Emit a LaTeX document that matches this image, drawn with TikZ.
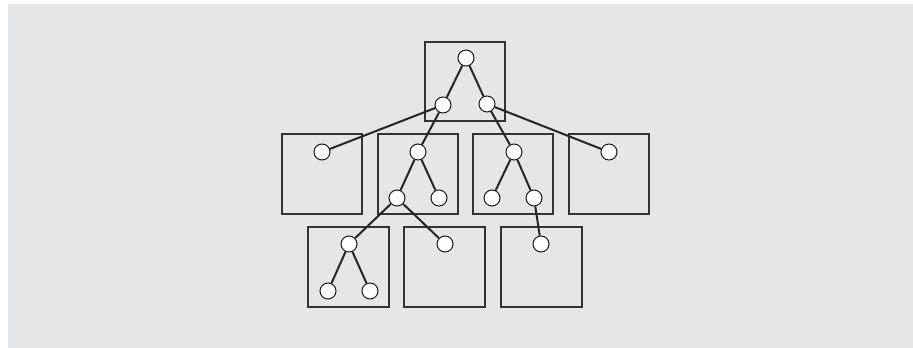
\documentclass[tikz,border=0pt]{standalone}
\begin{document}
\begin{tikzpicture}[x=1pt,y=-1pt,
  cell/.style={draw=black!80, line width=1.2pt},
  vtx/.style={circle, draw=black!90, fill=white, line width=1pt, minimum size=16pt, inner sep=0pt},
  edge/.style={draw=black!85, line width=2pt}]
\useasboundingbox (0,0) rectangle (913,348);
\fill[fill={rgb,255:red,229;green,230;blue,232}] (8,4) rectangle (913,348);
% boxes
\draw[cell] (425,42) rectangle (505,121);
\draw[cell] (282,134) rectangle (362,214);
\draw[cell] (378,134) rectangle (458,214);
\draw[cell] (473,134) rectangle (553,214);
\draw[cell] (569,134) rectangle (649,214);
\draw[cell] (308,227) rectangle (389,307);
\draw[cell] (404,227) rectangle (485,307);
\draw[cell] (501,227) rectangle (582,307);
% vertices
\node[vtx] (r) at (466,58) {};
\node[vtx] (a) at (443,105) {};
\node[vtx] (b) at (487,104) {};
\node[vtx] (c) at (322,152) {};
\node[vtx] (d) at (418,152) {};
\node[vtx] (d1) at (397,198) {};
\node[vtx] (d2) at (439,198) {};
\node[vtx] (e) at (514,152) {};
\node[vtx] (e1) at (492,198) {};
\node[vtx] (e2) at (534,198) {};
\node[vtx] (f) at (609,152) {};
\node[vtx] (g) at (349,244) {};
\node[vtx] (g1) at (328,291) {};
\node[vtx] (g2) at (370,291) {};
\node[vtx] (h) at (445,244) {};
\node[vtx] (k) at (541,244) {};
% edges
\draw[edge] (r) -- (a);
\draw[edge] (r) -- (b);
\draw[edge] (a) -- (c);
\draw[edge] (a) -- (d);
\draw[edge] (b) -- (e);
\draw[edge] (b) -- (f);
\draw[edge] (d) -- (d1);
\draw[edge] (d) -- (d2);
\draw[edge] (e) -- (e1);
\draw[edge] (e) -- (e2);
\draw[edge] (d1) -- (g);
\draw[edge] (d1) -- (h);
\draw[edge] (e2) -- (k);
\draw[edge] (g) -- (g1);
\draw[edge] (g) -- (g2);
\end{tikzpicture}
\end{document}
